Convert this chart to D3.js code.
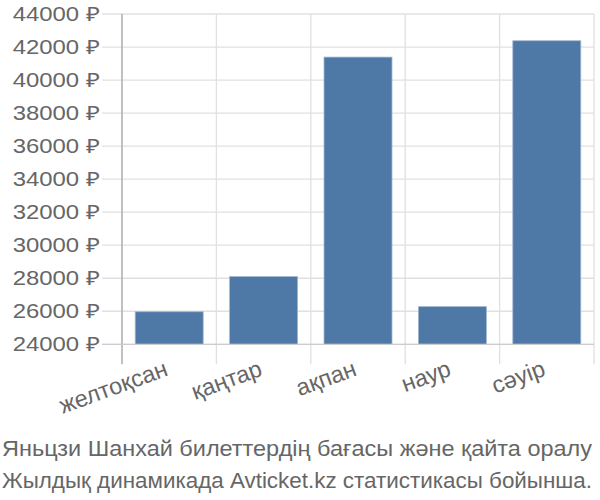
<!DOCTYPE html>
<html><head><meta charset="utf-8">
<script src="https://cdn.jsdelivr.net/npm/d3@7"></script>
<style>body{margin:0;background:#fff}svg{display:block}text{font-family:"Liberation Sans",Arial,sans-serif}</style>
</head><body><svg id="c" width="600" height="500"></svg>
<script>
const categories = ["желтоқсан","қаңтар","ақпан","наур","сәуір"];
const prices = [25970, 28100, 41390, 26280, 42380];
const yTicks = [24000,26000,28000,30000,32000,34000,36000,38000,40000,42000,44000];
const titleLines = ["Яньцзи Шанхай билеттердің бағасы және қайта оралу","Жылдық динамикада Avticket.kz статистикасы бойынша."];

const svg = d3.select("#c");
const L = 122, R = 594, T = 14, B = 344.3;
const x = d3.scaleBand().domain(categories).range([L, R]).paddingInner(0.28).paddingOuter(0.14);
const xg = d3.scaleBand().domain(categories).range([L, R]);
const y = d3.scaleLinear().domain([24000, 44000]).range([B, T]);

svg.append("g").selectAll("line").data(yTicks).join("line")
  .attr("x1", L-20).attr("x2", R).attr("y1", d=>y(d)).attr("y2", d=>y(d))
  .attr("stroke", "#e0e0e0").attr("stroke-width", 1.3);
const vx = categories.map(c=>xg(c)).concat([R]);
svg.append("g").selectAll("line").data(vx).join("line")
  .attr("x1", d=>d).attr("x2", d=>d).attr("y1", T).attr("y2", B+20)
  .attr("stroke", "#e0e0e0").attr("stroke-width", 1.3);

svg.append("g").selectAll("rect").data(prices).join("rect")
  .attr("x", (d,i)=>x(categories[i])).attr("width", x.bandwidth())
  .attr("y", d=>y(d)).attr("height", d=>B-y(d))
  .attr("fill", "#4e78a6").attr("stroke", "#9fb6d0").attr("stroke-width", 0.8);

svg.append("line").attr("x1", L).attr("x2", L).attr("y1", T).attr("y2", B+20).attr("stroke", "#aaa").attr("stroke-width", 1.3);
svg.append("line").attr("x1", L-20).attr("x2", R).attr("y1", B).attr("y2", B).attr("stroke", "#ccc").attr("stroke-width", 1.3);

svg.append("g").selectAll("text").data(yTicks).join("text")
  .attr("transform", d=>`translate(100,${y(d)}) scale(1.22,1)`)
  .attr("dy", "0.36em").attr("text-anchor", "end")
  .attr("fill", "#666").attr("font-size", 19.6).text(d=>d + " ₽");

svg.append("g").selectAll("text").data(categories).join("text")
  .attr("transform", d=>`translate(${xg(d)+xg.bandwidth()/2},375) rotate(-20)`)
  .attr("text-anchor", "end").attr("fill", "#666").attr("font-size", 23.5).text(d=>d);

svg.append("g").selectAll("text").data(titleLines).join("text")
  .attr("x", 2).attr("y", (d,i)=>456 + i*32).attr("fill", "#666").attr("font-size", 22.4)
  .attr("textLength", 590).attr("lengthAdjust", "spacingAndGlyphs").text(d=>d);
</script></body></html>
